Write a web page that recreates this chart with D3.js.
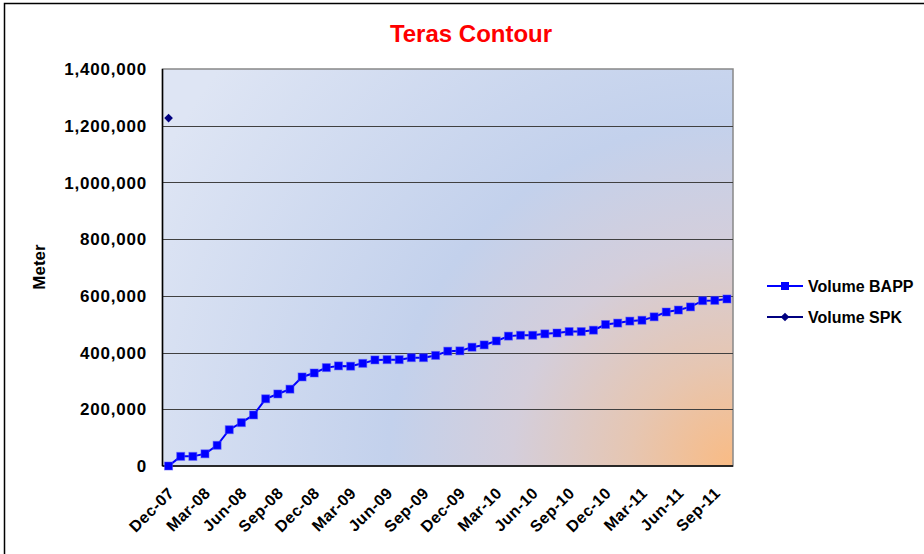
<!DOCTYPE html>
<html>
<head>
<meta charset="utf-8">
<script src="https://cdn.jsdelivr.net/npm/d3@7"></script>
<style>
  body { margin: 0; background: #fff; }
  svg text { font-family: "Liberation Sans", Arial, sans-serif; font-weight: bold; }
</style>
</head>
<body>
<div class="chart"></div>
<script>
        // chart data
        var months = ["Dec-07",
            "Jan-08","Feb-08","Mar-08","Apr-08","May-08","Jun-08","Jul-08","Aug-08","Sep-08","Oct-08","Nov-08","Dec-08",
            "Jan-09","Feb-09","Mar-09","Apr-09","May-09","Jun-09","Jul-09","Aug-09","Sep-09","Oct-09","Nov-09","Dec-09",
            "Jan-10","Feb-10","Mar-10","Apr-10","May-10","Jun-10","Jul-10","Aug-10","Sep-10","Oct-10","Nov-10","Dec-10",
            "Jan-11","Feb-11","Mar-11","Apr-11","May-11","Jun-11","Jul-11","Aug-11","Sep-11","Oct-11"];

        var volumeBAPP = [0, 34000, 34000, 43000, 73000, 128000, 153000, 180000, 237000, 254000, 271000, 314000,
            328000, 347000, 353000, 352000, 362000, 374000, 375000, 375000, 382000, 382000, 390000, 405000,
            406000, 419000, 427000, 441000, 458000, 461000, 461000, 466000, 469000, 474000, 474000, 479000,
            499000, 504000, 511000, 514000, 526000, 543000, 550000, 561000, 583000, 584000, 589000];

        // only the first month has an SPK value
        var volumeSPK = [1227000];

        var tickMonths = ["Dec-07","Mar-08","Jun-08","Sep-08","Dec-08","Mar-09","Jun-09","Sep-09",
            "Dec-09","Mar-10","Jun-10","Sep-10","Dec-10","Mar-11","Jun-11","Sep-11"];
        var yTicks = [0, 200000, 400000, 600000, 800000, 1000000, 1200000, 1400000];

        var w = 924, h = 554;
        var plotL = 162.5, plotR = 733, plotT = 69, plotB = 466;

        var svg = d3.select("div.chart")
                    .append("svg")
                    .attr("width", w)
                    .attr("height", h);

        // outer chart border
        svg.append("rect")
            .attr("x", 4.5).attr("y", 3.5)
            .attr("width", 1000).attr("height", 1000)
            .attr("fill", "none")
            .attr("stroke", "#000")
            .attr("stroke-width", 1.5);

        var xScale = d3.scaleBand()
                        .domain(months)
                        .range([plotL, plotR]);

        var yScale = d3.scaleLinear()
                        .domain([0, 1400000])
                        .range([plotB, plotT]);

        function cx(m) { return xScale(m) + xScale.bandwidth() / 2; }

        // plot area background
        var grad = svg.append("defs").append("radialGradient")
            .attr("id", "bg")
            .attr("gradientUnits", "userSpaceOnUse")
            .attr("cx", plotR).attr("cy", plotB).attr("r", 650);
        grad.append("stop").attr("offset", 0).attr("stop-color", "#f9bb84");
        grad.append("stop").attr("offset", 0.16).attr("stop-color", "#e6c6b2");
        grad.append("stop").attr("offset", 0.34).attr("stop-color", "#d4cedb");
        grad.append("stop").attr("offset", 0.53).attr("stop-color", "#c3d1ec");
        grad.append("stop").attr("offset", 1).attr("stop-color", "#dee5f4");

        svg.append("rect")
            .attr("x", plotL).attr("y", plotT)
            .attr("width", plotR - plotL).attr("height", plotB - plotT)
            .attr("fill", "url(#bg)")
            .attr("stroke", "#888")
            .attr("stroke-width", 1.5);

        // gridlines
        svg.selectAll("line.grid")
           .data(yTicks.slice(1, -1))
           .enter()
           .append("line")
           .attr("class", "grid")
           .attr("x1", plotL).attr("x2", plotR)
           .attr("y1", function(d) { return Math.round(yScale(d)) + 0.5; })
           .attr("y2", function(d) { return Math.round(yScale(d)) + 0.5; })
           .attr("stroke", "#404040")
           .attr("stroke-width", 1);

        // axis lines
        svg.append("line")
            .attr("x1", plotL).attr("x2", plotL)
            .attr("y1", plotT).attr("y2", plotB)
            .attr("stroke", "#000").attr("stroke-width", 1.5);
        svg.append("line")
            .attr("x1", plotL).attr("x2", plotR)
            .attr("y1", plotB).attr("y2", plotB)
            .attr("stroke", "#000").attr("stroke-width", 1.5);

        // y tick labels
        svg.selectAll("text.ytick")
           .data(yTicks)
           .enter()
           .append("text")
           .attr("class", "ytick")
           .attr("x", 147)
           .attr("y", function(d) { return yScale(d); })
           .attr("dy", "0.36em")
           .attr("text-anchor", "end")
           .attr("font-size", "17px")
           .attr("letter-spacing", "0.8px")
           .attr("fill", "#000")
           .text(function(d) { return d3.format(",")(d); });

        // x tick labels
        svg.selectAll("text.xtick")
           .data(tickMonths)
           .enter()
           .append("text")
           .attr("class", "xtick")
           .attr("text-anchor", "end")
           .attr("font-size", "16px")
           .attr("letter-spacing", "0.5px")
           .attr("fill", "#000")
           .attr("transform", function(d) {
                return "translate(" + (cx(d) + 6.5) + "," + 494 + ") rotate(-45)";
           })
           .text(function(d) { return d; });

        // title
        svg.append("text")
            .attr("x", 471).attr("y", 42)
            .attr("text-anchor", "middle")
            .attr("font-size", "24px")
            .attr("fill", "#ff0000")
            .text("Teras Contour");

        // y axis label
        svg.append("text")
            .attr("transform", "translate(39, 267) rotate(-90)")
            .attr("text-anchor", "middle")
            .attr("dy", "0.35em")
            .attr("font-size", "17px")
            .attr("fill", "#000")
            .text("Meter");

        // BAPP line and markers
        var line = d3.line()
            .x(function(d, i) { return cx(months[i]); })
            .y(function(d) { return yScale(d); });

        svg.append("path")
            .datum(volumeBAPP)
            .attr("d", line)
            .attr("fill", "none")
            .attr("stroke", "#0000ff")
            .attr("stroke-width", 2);

        svg.selectAll("rect.bapp")
           .data(volumeBAPP)
           .enter()
           .append("rect")
           .attr("class", "bapp")
           .attr("x", function(d, i) { return cx(months[i]) - 4; })
           .attr("y", function(d) { return yScale(d) - 4; })
           .attr("width", 8).attr("height", 8)
           .attr("fill", "#0000ff")
           .attr("stroke", "rgba(80,80,255,0.5)")
           .attr("stroke-width", 1);

        // SPK markers
        var diamond = d3.symbol().type(d3.symbolDiamond2).size(48);
        svg.selectAll("path.spk")
           .data(volumeSPK)
           .enter()
           .append("path")
           .attr("class", "spk")
           .attr("d", diamond)
           .attr("transform", function(d, i) {
                return "translate(" + cx(months[i]) + "," + yScale(d) + ")";
           })
           .attr("fill", "#000080");

        // legend
        var legend = svg.append("g");
        var items = [
            { name: "Volume BAPP", color: "#0000ff", y: 286, mark: "square" },
            { name: "Volume SPK", color: "#000080", y: 317, mark: "diamond" }
        ];
        items.forEach(function(it) {
            legend.append("line")
                .attr("x1", 767).attr("x2", 803)
                .attr("y1", it.y).attr("y2", it.y)
                .attr("stroke", it.color).attr("stroke-width", 2);
            if (it.mark === "square") {
                legend.append("rect")
                    .attr("x", 781).attr("y", it.y - 4)
                    .attr("width", 8).attr("height", 8)
                    .attr("fill", it.color);
            } else {
                legend.append("path")
                    .attr("d", diamond)
                    .attr("transform", "translate(785," + it.y + ")")
                    .attr("fill", it.color);
            }
            legend.append("text")
                .attr("x", 808).attr("y", it.y)
                .attr("dy", "0.36em")
                .attr("font-size", "16px")
                .attr("fill", "#000")
                .text(it.name);
        });
</script>
</body>
</html>
